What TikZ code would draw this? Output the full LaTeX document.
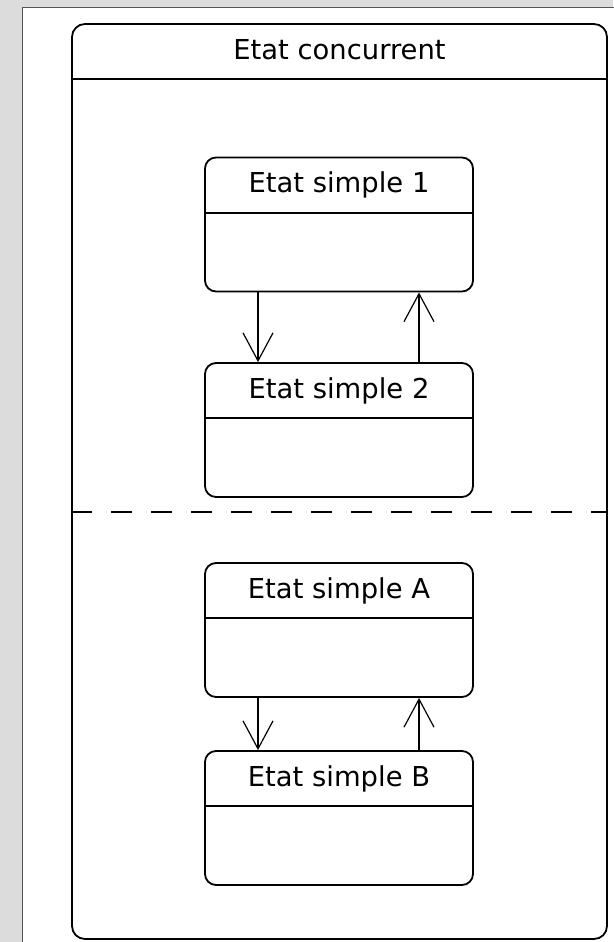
\documentclass[tikz,border=0pt]{standalone}
\usepackage{fontspec}
\setmainfont{DejaVu Sans}
\usetikzlibrary{arrows.meta}
\definecolor{bggray}{HTML}{DCDCDC}
\definecolor{panelrule}{HTML}{555555}
\begin{document}
\begin{tikzpicture}[x=1pt,y=-1pt,
  outline/.style={draw, line width=1.8pt},
  statebox/.style={outline, rounded corners=11pt, minimum width=268pt,
    minimum height=134pt, inner sep=0pt, fill=white},
  statename/.style={anchor=base, inner sep=0pt,
    font=\fontsize{27.4}{30}\selectfont},
  trans/.style={line width=1.6pt,
    -{Straight Barb[length=28pt,width=30pt,line width=1.2pt]}},
]
\useasboundingbox (0,0) rectangle (613,942);

% window background and white canvas
\fill[bggray] (0,0) rectangle (613,942);
\fill[white] (22.5,7.5) rectangle (640,960);
\draw[panelrule, line width=1pt] (22.5,960) -- (22.5,7.5) -- (640,7.5);

% composite state with its name compartment
\node[outline, rounded corners=13pt, minimum width=535pt, minimum height=915pt,
  inner sep=0pt] (outer) at (339.5,481.5) {};
\draw[outline] ([yshift=-56pt]outer.north west) -- ([yshift=-56pt]outer.north east);
\node[statename] (ttl) at ([yshift=-36pt]outer.north) {Etat concurrent};

% separator between the two concurrent regions
\coordinate (split) at (0,512);
\draw[outline, dash pattern=on 21pt off 19pt] (outer.west |- split) -- (outer.east |- split);

% simple states
\foreach \id/\cy/\txt in {s1/224.5/Etat simple 1, s2/430/Etat simple 2,
                          sA/630/Etat simple A, sB/818/Etat simple B}{
  \node[statebox] (\id) at (339,\cy) {};
  \draw[outline] ([yshift=-56pt]\id.north west) -- ([yshift=-56pt]\id.north east);
  \node[statename] (\id-name) at ([yshift=-36pt]\id.north) {\txt};
}

% transitions
\draw[trans] ([xshift=-81pt]s1.south) -- ([xshift=-81pt]s2.north);
\draw[trans] ([xshift=80pt]s2.north) -- ([xshift=80pt]s1.south);
\draw[trans] ([xshift=-81pt]sA.south) -- ([xshift=-81pt]sB.north);
\draw[trans] ([xshift=80pt]sB.north) -- ([xshift=80pt]sA.south);
\end{tikzpicture}
\end{document}
